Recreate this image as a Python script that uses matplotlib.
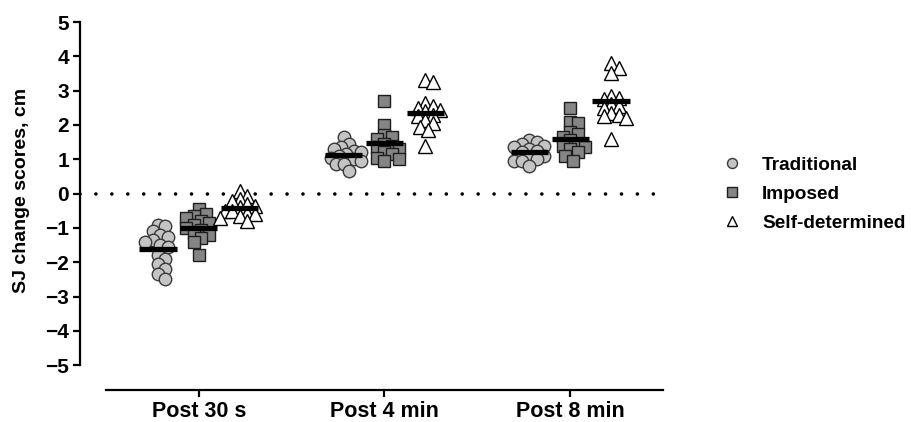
import numpy as np
import matplotlib
matplotlib.use("Agg")
import matplotlib.pyplot as plt
from matplotlib.lines import Line2D

plt.rcParams['font.family'] = ['Liberation Sans', 'DejaVu Sans']
plt.rcParams['font.weight'] = 'bold'

# time points and groups
categories = ["Post 30 s", "Post 4 min", "Post 8 min"]
groups = ["Traditional", "Imposed", "Self-determined"]

# SJ change scores (cm)
traditional = [
    [-0.9, -0.95, -1.1, -1.2, -1.25, -1.35, -1.4, -1.5, -1.55, -1.8, -1.9, -2.05, -2.2, -2.35, -2.5],
    [1.65, 1.45, 1.35, 1.3, 1.25, 1.2, 1.15, 1.1, 1.05, 1.0, 0.95, 0.85, 0.85, 0.65],
    [1.55, 1.5, 1.45, 1.4, 1.35, 1.3, 1.25, 1.2, 1.1, 1.05, 1.0, 0.95, 0.95, 0.8],
]
imposed = [
    [-0.45, -0.6, -0.65, -0.7, -0.8, -0.85, -0.9, -1.0, -1.05, -1.15, -1.2, -1.3, -1.4, -1.8],
    [2.7, 2.0, 1.7, 1.65, 1.6, 1.45, 1.4, 1.35, 1.3, 1.2, 1.15, 1.05, 1.0, 0.95],
    [2.5, 2.1, 2.05, 1.8, 1.75, 1.65, 1.55, 1.45, 1.4, 1.35, 1.3, 1.2, 1.1, 0.95],
]
self_determined = [
    [0.07, -0.08, -0.15, -0.2, -0.3, -0.35, -0.4, -0.5, -0.5, -0.55, -0.6, -0.65, -0.7, -0.8],
    [3.3, 3.25, 2.65, 2.55, 2.5, 2.45, 2.4, 2.3, 2.25, 2.15, 2.05, 1.95, 1.85, 1.4],
    [3.8, 3.65, 3.5, 2.85, 2.8, 2.75, 2.6, 2.55, 2.5, 2.35, 2.3, 2.25, 2.2, 1.6],
]

# marker styles per group
styles = [
    dict(marker='o', ms=9.0, mfc='#c4c4c4', mec='#3a3a3a'),
    dict(marker='s', ms=8.5, mfc='#858585', mec='#1e1e1e'),
    dict(marker='^', ms=9.5, mfc='white', mec='black'),
]

W, H = 912, 422
AX_L, AX_R, AX_T, AX_B = 80, 663, 22, 390
XLIM = (-0.64, 2.5)
YLIM = (-5.72, 5.0)
PX_X = (AX_R - AX_L) / (XLIM[1] - XLIM[0])
PX_Y = (AX_B - AX_T) / (YLIM[1] - YLIM[0])


def swarm_offsets(values, min_dist=7.5, step=2.5):
    """Simple beeswarm: x offsets (data units) so points overlap only a little."""
    order = np.argsort(values)[::-1]
    placed = []
    offsets = np.zeros(len(values))
    for i in order:
        y = values[i] * PX_Y
        k = 0
        while True:
            cands = [0.0] if k == 0 else [k * step, -k * step]
            ok = None
            for c in cands:
                if all((c - px) ** 2 + (y - py) ** 2 >= min_dist ** 2 for px, py in placed):
                    ok = c
                    break
            if ok is not None:
                break
            k += 1
        placed.append((ok, y))
        offsets[i] = ok / PX_X
    return offsets


fig = plt.figure(figsize=(W / 100, H / 100), dpi=100)
ax = fig.add_axes([AX_L / W, 1 - AX_B / H, (AX_R - AX_L) / W, (AX_B - AX_T) / H])

ax.axhline(0, color='black', lw=2.6, linestyle=(0, (0.01, 4.4)),
           dash_capstyle='round', zorder=1)

group_shift = [-0.22, 0.0, 0.22]
for g, data in enumerate([traditional, imposed, self_determined]):
    for c in range(len(categories)):
        vals = np.array(data[c])
        xs = c + group_shift[g] + swarm_offsets(vals)
        ax.plot(xs, vals, linestyle='none', mew=1.0, clip_on=False, zorder=3,
                **styles[g])
        m = vals.mean()
        ax.hlines(m, c + group_shift[g] - 0.1, c + group_shift[g] + 0.1,
                  color='black', lw=3.8, zorder=4)

ax.set_xlim(*XLIM)
ax.set_ylim(*YLIM)
ax.set_xticks(range(len(categories)))
ax.set_xticklabels(categories, fontsize=15.5, fontweight='bold')
ax.set_yticks(range(-5, 6))
ax.set_yticklabels([f"{v}".replace('-', '\u2212') for v in range(-5, 6)],
                   fontsize=15, fontweight='bold')

for s in ['top', 'right']:
    ax.spines[s].set_visible(False)
ax.spines['left'].set_bounds(-5, 5)
ax.spines['bottom'].set_bounds(-0.5, 2.5)
ax.spines['left'].set_linewidth(1.6)
ax.spines['bottom'].set_linewidth(1.6)
ax.tick_params(axis='both', direction='out', length=5, width=1.6, pad=3)

fig.text(22 / W, 1 - 190 / H, "SJ change scores, cm", rotation=90,
         ha='center', va='center', fontsize=14, fontweight='bold')

handles = [Line2D([], [], linestyle='none', mew=1.0, **dict(styles[g], ms=styles[g]['ms'] * 0.8))
           for g in range(3)]
fig.legend(handles, groups, loc='center left', bbox_to_anchor=(703 / W, 1 - 194 / H),
           frameon=False, prop=dict(size=13.7, weight='bold'),
           handletextpad=1.0, labelspacing=0.62, handlelength=1.2)

fig.savefig("out.png", dpi=100)
